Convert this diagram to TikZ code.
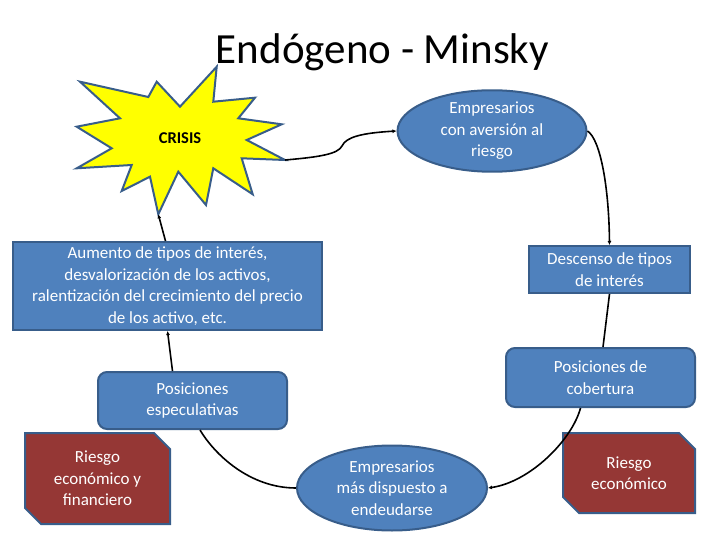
\documentclass[tikz,border=0pt]{standalone}
\usepackage{fontspec}
\setmainfont{Carlito}
\usetikzlibrary{shapes.geometric,shapes.misc,arrows.meta,calc}
\definecolor{obl}{HTML}{4F81BD}
\definecolor{obd}{HTML}{385D8A}
\definecolor{ored}{HTML}{953735}
\definecolor{ostar}{HTML}{FFFF00}
\begin{document}
\begin{tikzpicture}[x=1pt,y=-1pt,
  txt/.style={text=white,font=\fontsize{17}{21.5}\selectfont,align=center},
  bluebox/.style={txt,draw=obd,fill=obl,line width=2pt,inner sep=0pt},
  redbox/.style={txt,draw=obd,fill=ored,line width=2pt,inner sep=0pt,
    chamfered rectangle,chamfered rectangle corners={north east,south west},
    chamfered rectangle xsep=8pt,chamfered rectangle ysep=8pt},
  conn/.style={line width=1.6pt,black},
  tip/.style={-{Latex[length=4pt,width=4pt]}}]
\path[use as bounding box] (0,0) rectangle (720,540);
% title
\node[anchor=base,font=\fontsize{43}{50}\selectfont,inner sep=0pt] (title) at (382.5,64) {Endógeno - Minsky};
% star
\draw[fill=ostar,draw=obd,line width=2pt,line join=miter]
 (216.7,66.7) -- (213.3,101.7) -- (255,97.7) -- (238.3,118.3) -- (281.7,124.3)
 -- (246.7,140) -- (285,160) -- (241.7,158.3) -- (252.7,194.3) -- (213.3,168.3)
 -- (206,205) -- (178.3,171.7) -- (158.3,214.3) -- (150,176.7) -- (121.7,191)
 -- (131.7,165) -- (76.7,168.3) -- (111.7,148.3) -- (76.7,126.7) -- (120,118.3)
 -- (80,81.7) -- (148.3,97) -- (156.7,81.7) -- (180,106.7) -- cycle;
\coordinate (sr) at (285,160);
\coordinate (sb) at (158.3,214.3);
\node[font=\bfseries\fontsize{16.5}{18}\selectfont] (crisis) at (180,138) {CRISIS};
% nodes
\node[bluebox,ellipse,minimum width=189pt,minimum height=76pt] (e1) at (492,131)
  {Empresarios\\con aversión al\\riesgo};
\node[bluebox,rectangle,minimum width=309pt,minimum height=88pt] (aum) at (167.5,286)
  {Aumento de tipos de interés,\\desvalorización de los activos,\\ralentización del crecimiento del precio\\de los activo, etc.};
\node[bluebox,rectangle,minimum width=161pt,minimum height=47pt] (des) at (609.5,269.5)
  {Descenso de tipos\\de interés};
\node[bluebox,rectangle,rounded corners=9pt,minimum width=189pt,minimum height=59pt] (cob) at (600.5,377.5)
  {Posiciones de\\cobertura};
\node[bluebox,rectangle,rounded corners=9pt,minimum width=189pt,minimum height=57pt] (esp) at (192.5,400.5)
  {Posiciones\\especulativas};
\node[bluebox,ellipse,minimum width=190pt,minimum height=85pt] (e2) at (392,488)
  {Empresarios\\más dispuesto a\\endeudarse};
\node[redbox,minimum width=145pt,minimum height=91pt] (r1) at (97.5,478.5)
  {Riesgo\\económico y\\financiero};
\node[redbox,minimum width=132pt,minimum height=80pt] (r2) at (629,473)
  {Riesgo\\económico};
% connectors
\draw[conn,tip] (sr) .. controls (320,157) and (338,154) .. (342,146)
  .. controls (346,137) and (362,133) .. (e1.west);
\draw[conn,tip] (e1.east) .. controls (601,140) and (609,190) .. (des.north);
\draw[conn] (des.south) -- ($(cob.north)+(2.5,0)$);
\draw[conn,tip] ($(cob.south)+(-20,0)$) .. controls (572,440) and (530,482) .. (e2.east);
\draw[conn] ($(esp.south)+(7.5,0)$) .. controls (215,455) and (250,488) .. (e2.west);
\draw[conn,tip] ($(esp.north)+(-20,0)$) -- (aum.south);
\draw[conn,tip] ($(aum.north)+(-2,0)$) -- (sb);
\end{tikzpicture}
\end{document}
